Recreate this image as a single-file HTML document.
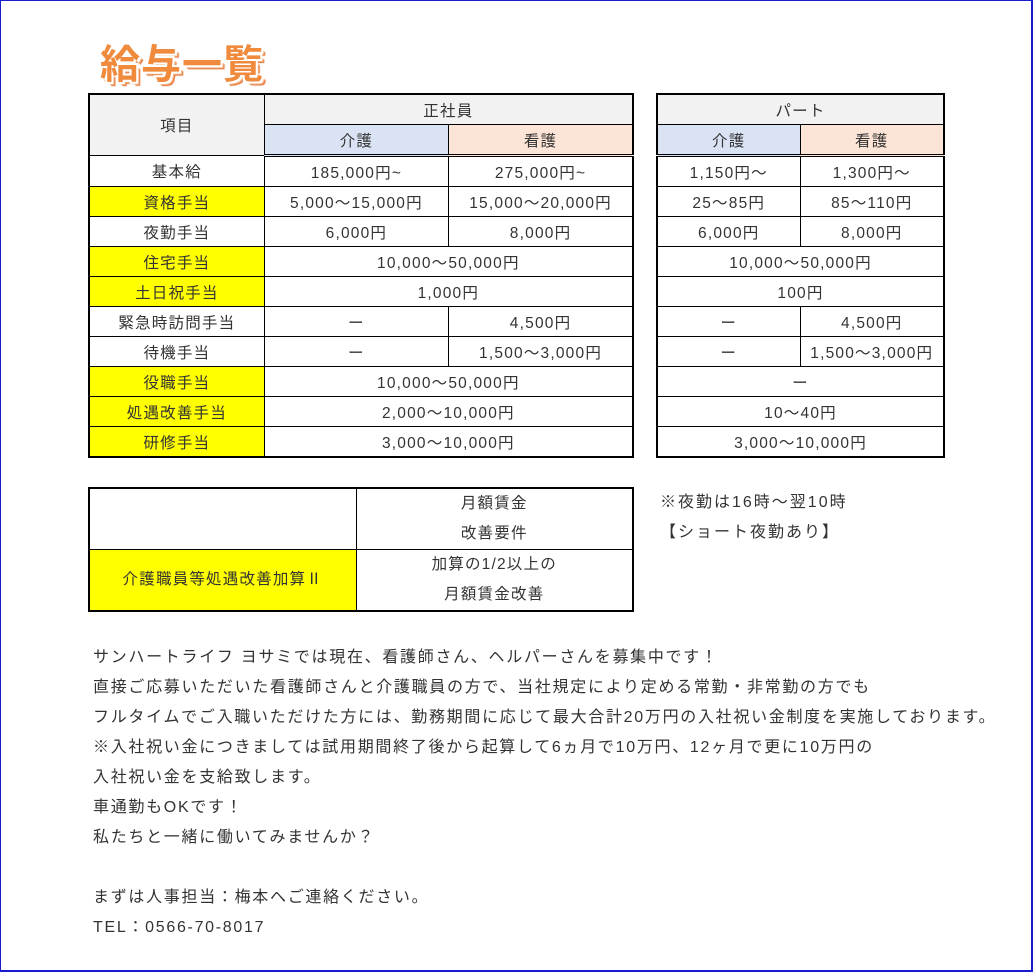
<!DOCTYPE html>
<html><head><meta charset="utf-8"><style>
body{margin:0;background:#fff;}
#f{position:absolute;left:0;top:0;width:1030px;height:969px;border:2px solid #1a1ad0;border-width:1px 2px 2px 1px;}
*{font-family:"Liberation Sans","Noto Sans CJK JP",sans-serif;}
.t{position:absolute;border-collapse:collapse;border:2px solid #000;color:#333;font-size:15.5px;letter-spacing:1.2px;}
.t td{border:1px solid #000;text-align:center;padding:0;height:29px;}
.hd td{background:#f2f2f2;}
.k{background:#dae3f3!important;}
.n{background:#fce4d6!important;}
.y{background:#ffff00;}
.db td{border-bottom:3px double #000;}
.title{position:absolute;left:100px;top:32px;font-size:40px;font-weight:bold;color:#f08a3c;
text-shadow:-2px -2px 0 #fff,2px -2px 0 #fff,-2px 2px 0 #fff,2px 2px 0 #fff,3px 3px 0 #f5b080,4px 4px 1px #e07030;letter-spacing:1px;}
.p{position:absolute;left:93px;top:643px;font-size:16px;line-height:30px;color:#333;letter-spacing:1.7px;white-space:nowrap;}
.note{position:absolute;left:660px;top:488px;font-size:16px;line-height:30px;color:#333;letter-spacing:2px;}
</style></head><body><div id="f"></div>
<div class="title">給与一覧</div>
<table class="t" style="left:88px;top:93px;width:546px;">
<colgroup><col style="width:176px"><col style="width:185px"><col style="width:185px"></colgroup>
<tr class="hd"><td rowspan="2" style="height:60px">項目</td><td colspan="2">正社員</td></tr>
<tr class="db"><td class="k">介護</td><td class="n">看護</td></tr>
<tr><td>基本給</td><td>185,000円~</td><td>275,000円~</td></tr>
<tr><td class="y">資格手当</td><td>5,000～15,000円</td><td>15,000～20,000円</td></tr>
<tr><td>夜勤手当</td><td>6,000円</td><td>8,000円</td></tr>
<tr><td class="y">住宅手当</td><td colspan="2">10,000～50,000円</td></tr>
<tr><td class="y">土日祝手当</td><td colspan="2">1,000円</td></tr>
<tr><td>緊急時訪問手当</td><td>ー</td><td>4,500円</td></tr>
<tr><td>待機手当</td><td>ー</td><td>1,500～3,000円</td></tr>
<tr><td class="y">役職手当</td><td colspan="2">10,000～50,000円</td></tr>
<tr><td class="y">処遇改善手当</td><td colspan="2">2,000～10,000円</td></tr>
<tr><td class="y">研修手当</td><td colspan="2">3,000～10,000円</td></tr>
</table>
<table class="t" style="left:656px;top:93px;width:289px;">
<colgroup><col style="width:144px"><col style="width:145px"></colgroup>
<tr class="hd"><td colspan="2">パート</td></tr>
<tr class="db"><td class="k">介護</td><td class="n">看護</td></tr>
<tr><td>1,150円～</td><td>1,300円～</td></tr>
<tr><td>25～85円</td><td>85～110円</td></tr>
<tr><td>6,000円</td><td>8,000円</td></tr>
<tr><td colspan="2">10,000～50,000円</td></tr>
<tr><td colspan="2">100円</td></tr>
<tr><td>ー</td><td>4,500円</td></tr>
<tr><td>ー</td><td>1,500～3,000円</td></tr>
<tr><td colspan="2">ー</td></tr>
<tr><td colspan="2">10～40円</td></tr>
<tr><td colspan="2">3,000～10,000円</td></tr>
</table>
<table class="t" style="left:88px;top:487px;width:546px;line-height:30px;">
<colgroup><col style="width:268px"><col style="width:278px"></colgroup>
<tr><td style="height:60px"></td><td>月額賃金<br>改善要件</td></tr>
<tr><td class="y" style="height:60px">介護職員等処遇改善加算Ⅱ</td><td>加算の1/2以上の<br>月額賃金改善</td></tr>
</table>
<div class="note">※夜勤は16時～翌10時<br>【ショート夜勤あり】</div>
<div class="p">サンハートライフ ヨサミでは現在、看護師さん、ヘルパーさんを募集中です！<br>
直接ご応募いただいた看護師さんと介護職員の方で、当社規定により定める常勤・非常勤の方でも<br>
フルタイムでご入職いただけた方には、勤務期間に応じて最大合計20万円の入社祝い金制度を実施しております。<br>
※入社祝い金につきましては試用期間終了後から起算して6ヵ月で10万円、12ヶ月で更に10万円の<br>
入社祝い金を支給致します。<br>
車通勤もOKです！<br>
私たちと一緒に働いてみませんか？<br><br>
まずは人事担当：梅本へご連絡ください。<br>
TEL：0566-70-8017</div>
</body></html>
